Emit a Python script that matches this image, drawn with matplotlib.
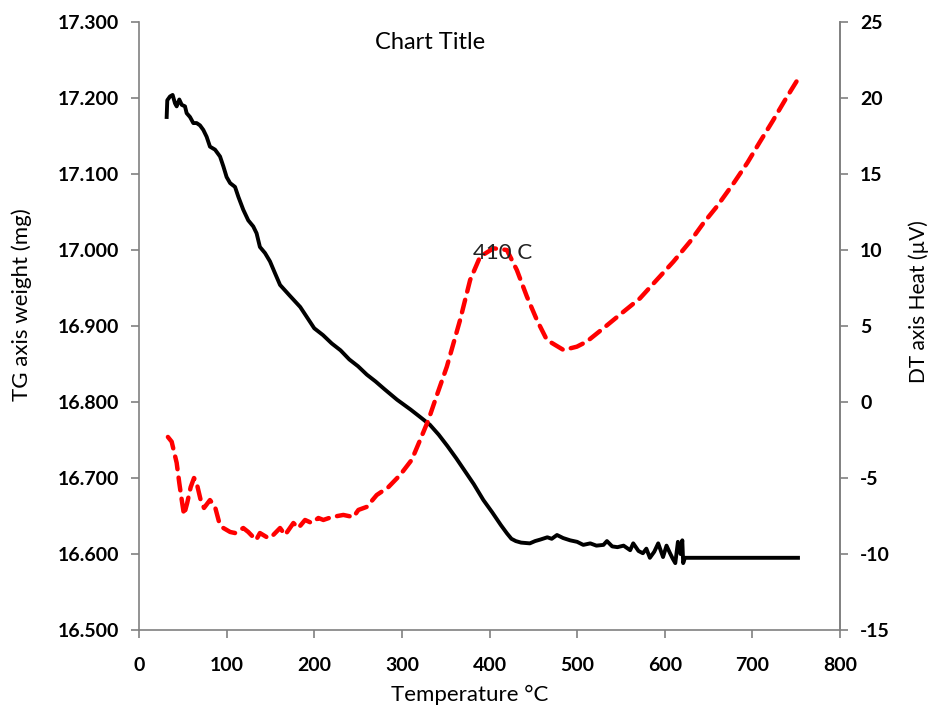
import matplotlib
matplotlib.use('Agg')
import matplotlib.pyplot as plt
import numpy as np

plt.rcParams['font.family'] = ['Lato', 'DejaVu Sans']

# TG curve (weight, mg)
tg_temp = [31.6, 32.3, 35.4, 38.4, 41.1, 43, 46, 48.8, 52.5, 54.4, 58.2, 62, 65.8, 69.6,
           73.4, 77.2, 81, 86.8, 92.5, 96.3, 100, 104, 109.6, 113.4, 119, 124.7, 130.4,
           134.2, 138, 143.8, 149.5, 155, 161, 172, 184, 200, 210, 220, 230, 240, 250,
           260, 270, 280, 294.5, 310, 320, 332, 342, 352, 362, 372, 382, 393, 403, 413,
           420, 425, 430, 436, 446, 452, 458, 466, 471, 477, 484, 492, 500, 507, 515,
           522, 530, 534, 540, 546, 553, 560.5, 564, 570, 575, 579, 583, 588, 592.5,
           598, 602, 606, 609, 612, 615, 618, 620, 621, 623, 650, 700, 752]
tg_mg = [17.175, 17.197, 17.202, 17.204, 17.193, 17.189, 17.198, 17.191, 17.189, 17.180,
         17.175, 17.167, 17.167, 17.164, 17.158, 17.149, 17.136, 17.132, 17.123, 17.110,
         17.096, 17.088, 17.083, 17.070, 17.053, 17.039, 17.031, 17.022, 17.004, 16.996,
         16.985, 16.970, 16.954, 16.940, 16.925, 16.897, 16.888, 16.877, 16.868, 16.856,
         16.847, 16.836, 16.827, 16.817, 16.803, 16.790, 16.781, 16.770, 16.757, 16.742,
         16.726, 16.709, 16.692, 16.671, 16.655, 16.638, 16.627, 16.620, 16.617, 16.615,
         16.614, 16.617, 16.619, 16.622, 16.620, 16.625, 16.621, 16.618, 16.616, 16.612,
         16.614, 16.611, 16.612, 16.617, 16.610, 16.609, 16.611, 16.605, 16.614, 16.604,
         16.601, 16.607, 16.595, 16.603, 16.614, 16.596, 16.611, 16.601, 16.594, 16.588,
         16.616, 16.600, 16.618, 16.588, 16.595, 16.595, 16.595, 16.595]

# DT curve (heat, uV)
dt_temp = [33, 37.3, 43, 46, 48.8, 51.4, 55, 59, 62.8, 65.8, 70.4, 74.2, 81, 86.8, 91.7,
           96.3, 104, 109.6, 119, 124.7, 133.6, 138, 147.5, 153.2, 161, 166.7, 176.2,
           181.9, 189.5, 197.1, 204.7, 210.4, 220, 233.2, 244.7, 250.4, 259.9, 271.3,
           284.6, 298, 311.3, 320.8, 330.3, 340, 351.3, 366.4, 377.9, 389.3, 404.5, 419.8,
           431.2, 442.7, 454.1, 465.5, 484.5, 499.7, 510.9, 529.9, 550.8, 571.7, 590.8,
           609.8, 628.8, 644, 659.3, 679, 694.3, 708, 723.2, 737.3, 752.6]
dt_uv = [-2.30, -2.61, -4.0, -5.33, -6.45, -7.43, -6.65, -5.6, -5.0, -5.33, -6.45, -6.97,
         -6.45, -6.9, -7.96, -8.29, -8.55, -8.62, -8.29, -8.55, -9.08, -8.62, -8.95, -8.75,
         -8.29, -8.75, -7.96, -8.29, -7.76, -7.96, -7.63, -7.76, -7.57, -7.43, -7.57, -7.1,
         -6.9, -6.12, -5.6, -4.8, -3.8, -2.5, -1.18, 0.46, 2.32, 5.39, 8.03, 9.56, 10.11,
         10.0, 8.68, 6.93, 5.39, 4.08, 3.42, 3.64, 3.97, 4.85, 5.84, 6.82, 8.03, 9.23,
         10.55, 11.76, 12.85, 14.43, 15.74, 17.06, 18.49, 19.87, 21.3]

x_ticks = [0, 100, 200, 300, 400, 500, 600, 700, 800]
tg_ticks = [16.5, 16.6, 16.7, 16.8, 16.9, 17.0, 17.1, 17.2, 17.3]
dt_ticks = [-15, -10, -5, 0, 5, 10, 15, 20, 25]

grey = '#808080'

fig = plt.figure(figsize=(9.34, 7.16), dpi=100)
ax = fig.add_axes([0.1488, 0.1201, 0.7506, 0.8492])
ax2 = ax.twinx()

ax.plot(tg_temp, tg_mg, color='black', lw=2.8, solid_joinstyle='round', zorder=3)
ax2.plot(dt_temp, dt_uv, color='#ff0000', lw=3.2, dashes=(2.9, 1.9),
         dash_capstyle='round', zorder=2)

ax.set_xlim(0, 800)
ax.set_ylim(16.5, 17.3)
ax2.set_ylim(-15, 25)
ax.set_xticks(x_ticks)
ax.set_yticks(tg_ticks)
ax2.set_yticks(dt_ticks)
ax.set_yticklabels(['%.3f' % v for v in tg_ticks])
ax2.set_yticklabels([str(v) for v in dt_ticks])

for a in (ax, ax2):
    a.spines['top'].set_visible(False)
    for s in ('left', 'right', 'bottom'):
        a.spines[s].set_color(grey)
        a.spines[s].set_linewidth(1.2)
    a.tick_params(colors=grey, width=1.2, length=5.5, labelcolor='black', labelsize=14)
    for lab in a.get_xticklabels() + a.get_yticklabels():
        lab.set_fontweight('bold')
ax.tick_params(axis='y', pad=9)
ax.tick_params(axis='x', pad=14)
ax2.tick_params(axis='y', pad=9)
ax2.spines['left'].set_visible(False)
ax2.spines['bottom'].set_visible(False)

ax.set_xlabel('Temperature °C', fontsize=16)
ax.set_ylabel('TG axis weight (mg)', fontsize=16)
ax2.set_ylabel('DT axis Heat (µV)', fontsize=15)
ax.xaxis.set_label_coords(0.472, -0.09)
ax.yaxis.set_label_coords(-0.152, 0.535)
ax2.yaxis.set_label_coords(1.097, 0.54)

ax.text(0.415, 0.967, 'Chart Title', transform=ax.transAxes, fontsize=17,
        ha='center', va='center')
ax2.text(415, 9.8, '410 C', fontsize=16, ha='center', va='center', color='#222222', zorder=4)

fig.savefig('out.png', dpi=100)
